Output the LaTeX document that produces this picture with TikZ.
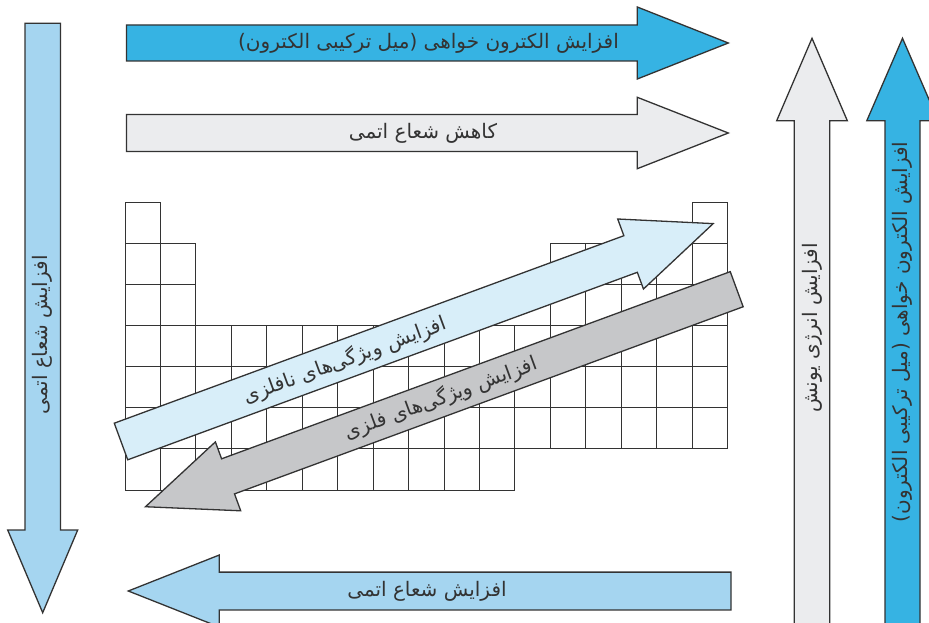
\documentclass[tikz,border=0pt]{standalone}
\usepackage{fontspec}
\setmainfont{DejaVu Sans}
\newfontfamily\fa[Script=Arabic]{DejaVu Sans}
\TeXXeTstate=1
\definecolor{cblue}{HTML}{36B3E3}
\definecolor{clblue}{HTML}{A5D5F0}
\definecolor{cgray}{HTML}{EBECEE}
\definecolor{cdlblue}{HTML}{D8EEF9}
\definecolor{cdgray}{HTML}{C6C7C9}
\definecolor{cline}{HTML}{333333}
\definecolor{ctext}{HTML}{333333}
\tikzset{
  arrowline/.style={draw=cline,line width=1.3pt,line join=miter},
  cellbox/.style={draw=cline,fill=white,line width=0.9pt},
  lbl/.style={font={\fa\fontsize{20}{24}\selectfont},text=ctext,inner sep=0pt},
}
% #1 fill, #2 start, #3 angle, #4 length, #5 shaft half width, #6 head half width, #7 head length
\newcommand\blkarrow[7]{%
  \begin{scope}[shift={#2},rotate=#3]
    \draw[arrowline,fill=#1] (0,-#5) -- ({#4-#7},-#5) -- ({#4-#7},-#6) -- (#4,0)
      -- ({#4-#7},#6) -- ({#4-#7},#5) -- (0,#5) -- cycle;
  \end{scope}}
\begin{document}
\begin{tikzpicture}[x=1pt,y=-1pt]
\useasboundingbox (0,0) rectangle (929,623);
\fill[white] (0,0) rectangle (929,623);
\clip (0,0) rectangle (929,623);
% periodic table grid
\foreach \r/\a/\b in {1/1/1,1/17/17,2/1/2,2/13/17,3/1/2,3/13/17,4/1/17,5/1/17,6/1/17,7/1/11}{
  \foreach \c in {\a,...,\b}{
    \draw[cellbox] ({125+(\c-1)*35.44},{202.7+(\r-1)*41.04}) rectangle ++(35.44,41.04);
  }
}
% diagonal arrows
\blkarrow{cdlblue}{(121,441.5)}{20.2}{631}{19.5}{37.3}{88}
\blkarrow{cdgray}{(736.7,289.2)}{200.2}{630}{18.7}{36.7}{88}
% horizontal arrows
\blkarrow{cblue}{(126.5,43)}{0}{601.8}{18}{36}{91}
\blkarrow{cgray}{(126.5,133)}{0}{601.8}{18.5}{35.7}{91}
\blkarrow{clblue}{(731,591)}{180}{602.7}{18.9}{36}{91}
% vertical arrows
\blkarrow{clblue}{(42.7,23.3)}{-90}{589.4}{17.7}{35}{82.7}
\blkarrow{cgray}{(812,650)}{90}{611.7}{17.8}{35.3}{82.4}
\blkarrow{cblue}{(902.5,650)}{90}{611.7}{17.5}{35.7}{82.4}
% labels
\node[lbl] (t1) at (428.5,43) {\beginR افزایش الکترون خواهی (میل ترکیبی الکترون)\endR};
\node[lbl] (t2) at (423,133) {\beginR کاهش شعاع اتمی\endR};
\node[lbl] (t3) at (427,591) {\beginR افزایش شعاع اتمی\endR};
\node[lbl,rotate=90] (t4) at (42.7,335) {\beginR افزایش شعاع اتمی\endR};
\node[lbl,rotate=90] (t5) at (812,328) {\beginR افزایش انرژی یونش\endR};
\node[lbl,rotate=90] (t6) at (902.5,332) {\beginR افزایش الکترون خواهی (میل ترکیبی الکترون)\endR};
\node[lbl,rotate=20.2] (t7) at (345,360) {\beginR افزایش ویژگی‌های نافلزی\endR};
\node[lbl,rotate=20.2] (t8) at (441,398) {\beginR افزایش ویژگی‌های فلزی\endR};
\end{tikzpicture}
\end{document}
